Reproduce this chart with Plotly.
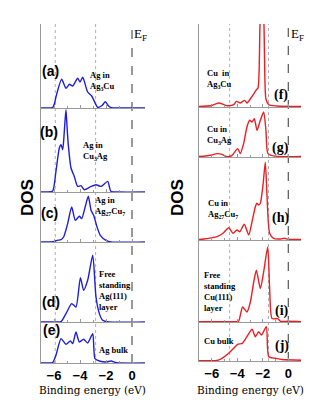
import plotly.graph_objs as go

# the page body keeps an 8px margin, so the figure is sized to fit inside it
OFF = 8
W, H = 326 - 2 * OFF, 411 - 2 * OFF

# binding energy (eV) / DOS (arb. units)
# left column: Ag projected DOS
ag_in_ag3cu_e = [-7, -6.5, -6.1, -5.95, -5.85, -5.41, -5.08, -4.82, -4.56, -4.18, -4.0, -3.79, -3.41, -3.1, -2.64,
                 -2.3, -2.05, -1.8, -1.6, -1.0, 1]
ag_in_ag3cu_dos = [0, 0, 0.5, 5, 11, 28.7, 19.7, 23.7, 22, 29.7, 26, 30.7, 16, 12, 0.7, 2.5, 6.3, 2, 0.3, 0, 0]

ag_in_cu3ag_e = [-7, -6.5, -6.1, -5.85, -5.59, -5.46, -5.33, -5.2, -5.08, -5.0, -4.9, -4.69, -4.44, -4.18, -3.92,
                 -3.67, -3.15, -2.77, -2.38, -1.87, -1.62, -1.0, 1]
ag_in_cu3ag_dos = [0, 0, 1, 20.7, 44, 47.3, 42.3, 62, 82.3, 66, 47.3, 24, 15.6, 5.6, 6.3, 2.3, 5.6, 7.3, 5.6, 10.6,
                   0.7, 0, 0]

ag_in_ag27cu7_e = [-7, -6.2, -5.97, -5.77, -5.46, -5.26, -4.95, -4.64, -4.36, -4.05, -3.87, -3.59, -3.36, -3.15,
                   -2.95, -2.69, -2.44, -2.0, -1.6, 1]
ag_in_ag27cu7_dos = [0, 0, 0.5, 1.7, 2.3, 5, 18.4, 35, 21.7, 25.7, 23.4, 35.7, 45.7, 31.7, 26.7, 15, 6.7, 1.7, 0, 0]

ag111_layer_e = [-7, -5.8, -5.46, -5.08, -4.64, -4.31, -3.97, -3.72, -3.41, -3.02, -2.77, -2.51, -2.26, -1.8, 1]
ag111_layer_dos = [0, 0, 0.3, 8.4, 18.4, 15, 44.4, 31.7, 41.7, 66.7, 25, 8.4, 1.7, 0, 0]

ag_bulk_e = [-7, -6.4, -6.1, -5.85, -5.46, -5.08, -4.74, -4.56, -4.31, -4.05, -3.72, -3.41, -3.02, -2.85, -2.51,
             -2.0, -1.6, -1.2, 1]
ag_bulk_dos = [0, 0, 0.5, 7.7, 24.4, 18.7, 22, 19.4, 31, 21, 23.7, 20, 29.4, 4.4, 2, 1, 2, 0.3, 0]

# right column: Cu projected DOS
cu_in_ag3cu_e = [-7, -6.63, -6.0, -5.45, -4.8, -4.28, -4.07, -3.76, -3.42, -3.24, -2.84, -2.5, -2.37, -2.22, -2.06,
                 -1.9, -1.85, -1.75, -1.53, -0.9, 1]
cu_in_ag3cu_dos = [0.5, 0.7, 1.5, 4, 1.3, 2.3, 5.6, 4, 6.6, 4, 10.6, 17.3, 19, 80, 130, 80, 40, 8, 2.3, 1, 0.5]

cu_in_cu3ag_e = [-7, -6.63, -6.1, -5.59, -5.2, -4.8, -4.41, -3.97, -3.76, -3.5, -3.24, -3.02, -2.84, -2.66, -2.45,
                 -2.19, -1.93, -1.75, -1.59, -1.0, 1]
cu_in_cu3ag_dos = [0.5, 0.7, 1.7, 3.4, 2.7, 0.3, 1.7, 8.4, 3.4, 13.4, 30, 36.7, 35, 38.4, 26.7, 36.7, 45, 26.7, 3.4,
                   0.7, 0.5]

cu_in_ag27cu7_e = [-7, -6.63, -5.59, -5.12, -4.67, -4.33, -4.02, -3.8, -3.45, -3.1, -2.84, -2.58, -2.45, -2.32,
                   -2.19, -1.98, -1.8, -1.67, -1.46, -1.15, -0.6, -0.3, 0, 1]
cu_in_ag27cu7_dos = [0.5, 1, 3.4, 6.7, 12.3, 6.7, 10, 8.3, 15.7, 5, 18.3, 33.3, 36.7, 35, 36.7, 55, 77.7, 45, 6.7,
                     1.7, 1, 1.7, 0.7, 0.5]

cu111_layer_e = [-7, -4.2, -3.89, -3.76, -3.58, -3.24, -2.97, -2.71, -2.5, -2.19, -1.93, -1.61, -1.46, -1.27, -0.83,
                 -0.6, 0, 1]
cu111_layer_dos = [0.3, 0.3, 0.7, 6.7, 15, 10, 20, 40, 51.7, 33.4, 50, 75, 33.4, 3.4, 3.4, 0.7, 0.7, 0.3]

cu_bulk_e = [-7, -5.6, -5.2, -4.67, -4.28, -3.97, -3.6, -3.24, -2.84, -2.58, -2.32, -2.1, -1.72, -1.53, -1.0, -0.5, 1]
cu_bulk_dos = [0.3, 0.5, 2.7, 7.7, 12.7, 16.7, 17.7, 24.3, 31.7, 24.3, 29.3, 26, 34.3, 4.3, 2.7, 1.5, 0.8]

tags = ['(a)', '(b)', '(c)', '(d)', '(e)', '(f)', '(g)', '(h)', '(i)', '(j)']
systems = ['Ag in<br>Ag<sub>3</sub>Cu', 'Ag in<br>Cu<sub>3</sub>Ag', 'Ag in<br>Ag<sub>27</sub>Cu<sub>7</sub>',
           'Free<br>standing<br>Ag(111)<br>layer', 'Ag bulk',
           'Cu  in<br>Ag<sub>3</sub>Cu', 'Cu in<br>Cu<sub>3</sub>Ag', 'Cu in<br>Ag<sub>27</sub>Cu<sub>7</sub>',
           'Free<br>standing<br>Cu(111)<br>layer', 'Cu bulk']
tick_vals = [-6, -4, -2, 0]
ag_guides = [-5.9, -2.8]
cu_guides = [-4.6, -1.55]

series = [
    (ag_in_ag3cu_e, ag_in_ag3cu_dos), (ag_in_cu3ag_e, ag_in_cu3ag_dos), (ag_in_ag27cu7_e, ag_in_ag27cu7_dos),
    (ag111_layer_e, ag111_layer_dos), (ag_bulk_e, ag_bulk_dos),
    (cu_in_ag3cu_e, cu_in_ag3cu_dos), (cu_in_cu3ag_e, cu_in_cu3ag_dos), (cu_in_ag27cu7_e, cu_in_ag27cu7_dos),
    (cu111_layer_e, cu111_layer_dos), (cu_bulk_e, cu_bulk_dos),
]


def px(x):
    return (x - OFF) / W


def py(y):
    return 1 - (y - OFF) / H


# panel boundaries in window pixels (top, bottom)
left_rows = [(24, 108), (108, 192), (192, 242), (242, 322), (322, 363)]
right_rows = [(24, 107), (107, 157), (157, 240), (240, 322), (322, 361)]
left_x = (41, 145)
right_x = (199, 301)

blue = 'rgb(30, 30, 215)'
red = 'rgb(235, 30, 35)'
grey = '#9a9a9a'
serif = 'Liberation Serif'
sans = 'Liberation Sans'

fig = go.Figure()
layout = dict(width=W, height=H, margin=dict(l=0, r=0, t=0, b=0), plot_bgcolor='white', paper_bgcolor='white',
              showlegend=False)

annotations = []
for i in range(10):
    left = i < 5
    top, bottom = (left_rows if left else right_rows)[i % 5]
    xd = left_x if left else right_x
    bottom_panel = i % 5 == 4
    n = i + 1
    e, dos = series[i]
    fig.add_trace(go.Scatter(x=e, y=dos, mode='lines', line=dict(color=blue if left else red, width=1.4,
                                                                 shape='spline', smoothing=0.6),
                             xaxis='x%d' % n, yaxis='y%d' % n, hoverinfo='skip'))
    layout['xaxis%d' % n] = dict(domain=[px(xd[0]), px(xd[1])], anchor='y%d' % n, range=[-7, 1],
                                 showline=True, linecolor=grey, linewidth=1, showgrid=False, zeroline=False,
                                 tickvals=tick_vals, ticks='inside', ticklen=3, tickcolor=grey,
                                 minor=dict(ticks='inside', dtick=1, ticklen=2, tickcolor=grey),
                                 showticklabels=bottom_panel,
                                 tickfont=dict(family=sans, size=13, color='black', weight='bold'))
    layout['yaxis%d' % n] = dict(domain=[py(bottom), py(top)], anchor='x%d' % n, range=[0, bottom - top],
                                 showline=True, linecolor=grey, linewidth=1, showgrid=False, zeroline=False,
                                 showticklabels=False, ticks='')

# panel tags and system names
tag_pos = [(50, 71), (49, 132), (49, 213), (51, 302), (51, 330),
           (281, 95), (280, 148), (280, 218), (282, 311), (282, 346)]
name_pos = [(88, 68), (81, 138), (93, 193), (97, 267), (97, 343),
            (205, 66), (205, 122), (206, 196), (202, 268), (202, 334)]
for i in range(10):
    annotations.append(dict(x=px(tag_pos[i][0]), y=py(tag_pos[i][1]), xref='paper', yref='paper', text=tags[i],
                            showarrow=False, xanchor='center', yanchor='middle',
                            font=dict(family=sans if i < 5 else serif, size=14, color='black', weight='bold')))
    annotations.append(dict(x=px(name_pos[i][0]), y=py(name_pos[i][1]), xref='paper', yref='paper',
                            text=systems[i], showarrow=False, xanchor='left', yanchor='top', align='left',
                            font=dict(family=serif, size=8.5, color='black', weight='bold')))

for cx in (27, 177):
    annotations.append(dict(x=px(cx), y=py(198), xref='paper', yref='paper', text='DOS', textangle=-90,
                            showarrow=False, xanchor='center', yanchor='middle',
                            font=dict(family=sans, size=17, color='black', weight='bold')))
for cx in (92, 250):
    annotations.append(dict(x=px(cx), y=py(390), xref='paper', yref='paper', text='Binding energy (eV)',
                            showarrow=False, xanchor='center', yanchor='middle',
                            font=dict(family='DejaVu Serif', size=10.5, color='black')))
for cx in (132, 289):
    annotations.append(dict(x=px(cx), y=py(34), xref='paper', yref='paper', text='E<sub>F</sub>',
                            showarrow=False, xanchor='left', yanchor='middle',
                            font=dict(family=serif, size=13, color='black')))

# Fermi level and guide lines across each column
shapes = []
for ax, guides, (top, bottom) in (('x5', ag_guides, (24, 363)), ('x10', cu_guides, (24, 361))):
    shapes.append(dict(type='line', xref=ax, yref='paper', x0=0, x1=0, y0=py(bottom), y1=py(top),
                       line=dict(color='#333333', width=1, dash='dash'), layer='below'))
    for g in guides:
        shapes.append(dict(type='line', xref=ax, yref='paper', x0=g, x1=g, y0=py(bottom), y1=py(top),
                           line=dict(color='#b0b0b0', width=1, dash='dot'), layer='below'))

layout['annotations'] = annotations
layout['shapes'] = shapes
fig.update_layout(**layout)

fig.write_html("out.html")
